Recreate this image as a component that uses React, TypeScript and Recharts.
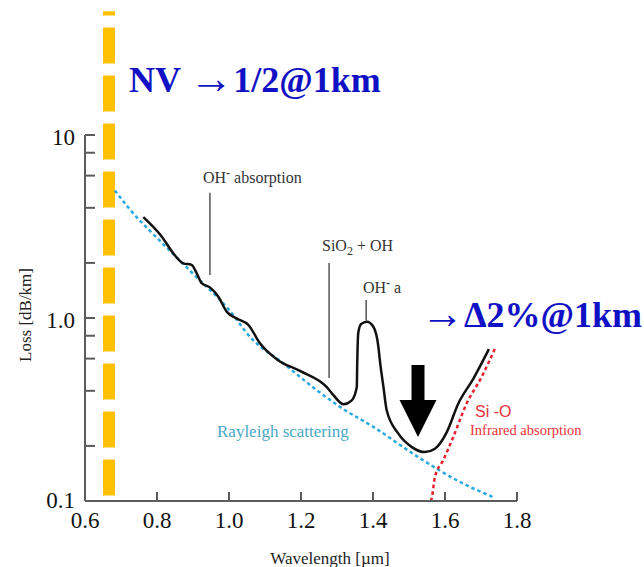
import React from 'react';
import { LineChart, Line, XAxis, YAxis, ReferenceLine, ReferenceDot } from 'recharts';

// Total fibre loss (black curve)
const lossX = [0.762, 0.813, 0.845, 0.873, 0.896, 0.910, 0.924, 0.947, 0.970, 0.994, 1.021, 1.054, 1.086, 1.133, 1.197, 1.271, 1.290, 1.318, 1.341, 1.355, 1.356, 1.359, 1.367, 1.383, 1.401, 1.415, 1.419, 1.429, 1.438, 1.470, 1.508, 1.544, 1.572, 1.605, 1.637, 1.679, 1.722];
const lossY = [3.56, 2.79, 2.26, 1.99, 1.95, 1.76, 1.55, 1.47, 1.31, 1.08, 0.996, 0.916, 0.727, 0.594, 0.514, 0.420, 0.379, 0.338, 0.355, 0.420, 0.541, 0.828, 0.927, 0.954, 0.896, 0.696, 0.589, 0.420, 0.313, 0.234, 0.197, 0.185, 0.193, 0.238, 0.341, 0.467, 0.676];

// Rayleigh scattering (blue dotted)
const rayX = [0.683, 0.725, 0.800, 0.892, 1.003, 1.058, 1.151, 1.244, 1.308, 1.401, 1.531, 1.642, 1.739];
const rayY = [4.98, 3.91, 2.74, 1.81, 1.09, 0.790, 0.565, 0.403, 0.327, 0.254, 0.171, 0.127, 0.104];

// Si-O infrared absorption (red dotted)
const irX = [1.561, 1.564, 1.572, 1.595, 1.623, 1.660, 1.702, 1.739];
const irY = [0.100, 0.106, 0.135, 0.167, 0.224, 0.341, 0.477, 0.682];

// Axes
const xTicks = [0.6, 0.8, 1.0, 1.2, 1.4, 1.6, 1.8];
const yTicks = [0.1, 0.2, 0.4, 0.6, 0.8, 1, 2, 4, 6, 8, 10];
const yMajorValues = [0.1, 1, 10];
const yMajorLabels = ['0.1', '1.0', '10'];

// Annotations (data coordinates)
const nvX = 0.6667;
const nvYRange = [0.107, 47.5];
const ohLeader = { x: 0.947, y: [4.84, 1.72] };
const sioLeader = { x: 1.278, y: [2.0, 0.47] };
const oh2Leader = { x: 1.381, y: [1.254, 0.967] };
const arrowTip = { x: 1.525, y: 0.224 };

const zip = (xs: number[], ys: number[]) => xs.map((x, i) => ({ x, y: ys[i] }));
const lossData = zip(lossX, lossY);
const rayData = zip(rayX, rayY);
const irData = zip(irX, irY);

const SERIF = '"Liberation Serif", "Times New Roman", serif';
const SANS = '"Liberation Sans", Arial, sans-serif';
const AXIS = '#5c5c5c';
const BLUE_TXT = '#1010C4';

const YTick = (props: any) => {
  const { x, y, payload } = props;
  const idx = yMajorValues.indexOf(payload.value);
  return (
    <g>
      <line x1={x} y1={y} x2={x + 10} y2={y} stroke={AXIS} strokeWidth={2} />
      {idx >= 0 && (
        <text x={x - 10} y={y + (payload.value === 0.1 ? 7 : 10)} textAnchor="end" style={{ fontFamily: SERIF }} fontSize={23} fill="#111">
          {yMajorLabels[idx]}
        </text>
      )}
    </g>
  );
};

const XTick = (props: any) => {
  const { x, y, payload } = props;
  return (
    <g>
      <line x1={x} y1={y} x2={x} y2={y - 9} stroke={AXIS} strokeWidth={2} />
      <text x={x} y={y + 27} textAnchor="middle" style={{ fontFamily: SERIF }} fontSize={23} fill="#111">
        {payload.value.toFixed(1)}
      </text>
    </g>
  );
};

const Arrow = (props: any) => {
  const { cx, cy } = props;
  const d = `M${cx - 6.5},${cy - 72} L${cx + 6.5},${cy - 72} L${cx + 6.5},${cy - 37} L${cx + 18.5},${cy - 37} L${cx},${cy} L${cx - 18.5},${cy - 37} L${cx - 6.5},${cy - 37} Z`;
  return <path d={d} fill="#000" />;
};

export default function App() {
  return (
    <div style={{ position: 'absolute', left: 0, top: 0, width: 644, height: 567, background: '#fff' }}>
      <LineChart width={644} height={567} margin={{ top: 135, right: 127, bottom: 0, left: 0 }}>
        <XAxis
          dataKey="x"
          type="number"
          domain={[0.6, 1.8]}
          ticks={xTicks}
          interval={0}
          allowDataOverflow
          height={66}
          tickSize={0}
          tickMargin={0}
          tickLine={false}
          axisLine={{ stroke: AXIS, strokeWidth: 2 }}
          tick={<XTick />}
        />
        <YAxis
          dataKey="y"
          type="number"
          scale="log"
          domain={[0.1, 10]}
          ticks={yTicks}
          interval={0}
          allowDataOverflow
          width={85}
          tickSize={0}
          tickMargin={0}
          tickLine={false}
          axisLine={{ stroke: AXIS, strokeWidth: 2 }}
          tick={<YTick />}
        />
        <ReferenceLine
          segment={[{ x: nvX, y: nvYRange[0] }, { x: nvX, y: nvYRange[1] }]}
          stroke="#FFC000"
          strokeWidth={12}
          strokeDasharray="36 12"
          ifOverflow="visible"
        />
        <ReferenceLine segment={[{ x: ohLeader.x, y: ohLeader.y[0] }, { x: ohLeader.x, y: ohLeader.y[1] }]} stroke="#555" strokeWidth={1.5} ifOverflow="visible" />
        <ReferenceLine segment={[{ x: sioLeader.x, y: sioLeader.y[0] }, { x: sioLeader.x, y: sioLeader.y[1] }]} stroke="#555" strokeWidth={1.5} ifOverflow="visible" />
        <ReferenceLine segment={[{ x: oh2Leader.x, y: oh2Leader.y[0] }, { x: oh2Leader.x, y: oh2Leader.y[1] }]} stroke="#555" strokeWidth={1.5} ifOverflow="visible" />
        <Line data={rayData} dataKey="y" type="monotone" stroke="#2AA8E0" strokeWidth={2.5} strokeDasharray="3.5 3" dot={false} isAnimationActive={false} />
        <Line data={irData} dataKey="y" type="monotone" stroke="#E8202E" strokeWidth={2.5} strokeDasharray="3.5 3" dot={false} isAnimationActive={false} />
        <Line data={lossData} dataKey="y" type="monotone" stroke="#111" strokeWidth={2.5} dot={false} isAnimationActive={false} />
        <ReferenceDot x={arrowTip.x} y={arrowTip.y} r={0} shape={<Arrow />} ifOverflow="visible" />
      </LineChart>
      <svg width={644} height={567} style={{ position: 'absolute', left: 0, top: 0, pointerEvents: 'none' }}>
        <text x={129} y={92} style={{ fontFamily: SERIF }} fontWeight="bold" fontSize={36} fill={BLUE_TXT}>
          NV <tspan fontSize={44} fontWeight="normal" dy={1}>→</tspan><tspan dy={-1}>1/2@1km</tspan>
        </text>
        <text x={203} y={183} style={{ fontFamily: SERIF }} fontSize={16} fill="#333">
          OH<tspan dy={-6} fontSize={12} fontWeight="bold">-</tspan><tspan dy={6}> absorption</tspan>
        </text>
        <text x={322} y={251} style={{ fontFamily: SERIF }} fontSize={16} fill="#333">
          SiO<tspan dy={4} fontSize={12}>2</tspan><tspan dy={-4}> + OH</tspan>
        </text>
        <text x={363} y={293} style={{ fontFamily: SERIF }} fontSize={16} fill="#333">
          OH<tspan dy={-6} fontSize={12} fontWeight="bold">-</tspan><tspan dy={6}> a</tspan>
        </text>
        <text x={421} y={327} style={{ fontFamily: SERIF }} fontWeight="bold" fontSize={36} fill={BLUE_TXT}>
          <tspan fontSize={43} fontWeight="normal" dy={1}>→</tspan><tspan dy={-1}>Δ2%@1km</tspan>
        </text>
        <text x={217} y={437} style={{ fontFamily: SERIF }} fontSize={17} fill="#4AA8C4">Rayleigh scattering</text>
        <text x={475} y={417} style={{ fontFamily: SANS }} fontSize={16} fill="#E8303A">Si -O</text>
        <text x={470} y={435} style={{ fontFamily: SERIF }} fontSize={14.5} fill="#E8303A">Infrared absorption</text>
        <text x={330} y={564} textAnchor="middle" style={{ fontFamily: SERIF }} fontSize={17} fill="#222">Wavelength [µm]</text>
        <text x={25} y={315} transform="rotate(-90 25 315)" textAnchor="middle" dominantBaseline="central" style={{ fontFamily: SERIF }} fontSize={17} fill="#222">Loss [dB/km]</text>
      </svg>
    </div>
  );
}
